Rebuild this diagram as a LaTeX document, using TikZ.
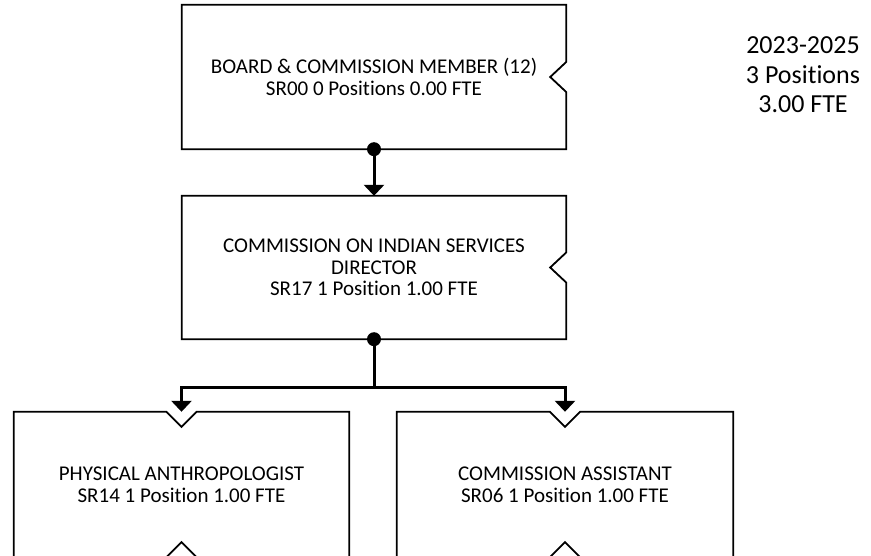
\documentclass[tikz,border=0pt]{standalone}
\usepackage{fontspec}
\setmainfont{Carlito}[Ligatures=NoCommon]
\usetikzlibrary{arrows.meta,calc}
\tikzset{
  orgbox/.style={draw=none, inner sep=0pt, align=center, font=\fontsize{21}{21.7}\selectfont},
  outline/.style={line width=1.8pt, draw=black, line join=miter},
  conn/.style={line width=3pt, draw=black, -{Triangle[width=20pt,length=11pt]}},
  dotc/.style={fill=black, circle, inner sep=0pt, minimum size=14pt},
  note/.style={align=center, inner sep=0pt, font=\fontsize{26}{29.5}\selectfont}
}
\begin{document}
\begin{tikzpicture}[x=1pt,y=-1pt]
\useasboundingbox (0,0) rectangle (871,556);
% boxes
\node[orgbox, minimum width=384pt, minimum height=144pt] (board) at (374,77)
  {BOARD \& COMMISSION MEMBER (12)\\SR00 0 Positions 0.00 FTE};
\node[orgbox, minimum width=384pt, minimum height=143pt] (dir) at (374,267.5)
  {COMMISSION ON INDIAN SERVICES\\DIRECTOR\\SR17 1 Position 1.00 FTE};
\node[orgbox, minimum width=335pt, minimum height=145pt] (pa) at (181.5,484.5)
  {PHYSICAL ANTHROPOLOGIST\\SR14 1 Position 1.00 FTE};
\node[orgbox, minimum width=336pt, minimum height=145pt] (ca) at (565,484.5)
  {COMMISSION ASSISTANT\\SR06 1 Position 1.00 FTE};
% outlines
\draw[outline] (board.north west) -- (board.north east)
  -- ($(board.east)+(0,-15)$) -- ($(board.east)+(-16,0)$) -- ($(board.east)+(0,15)$)
  -- (board.south east) -- (board.south west) -- cycle;
\draw[outline] (dir.north west) -- (dir.north east)
  -- ($(dir.east)+(0,-15)$) -- ($(dir.east)+(-16,0)$) -- ($(dir.east)+(0,15)$)
  -- (dir.south east) -- (dir.south west) -- cycle;
\foreach \b in {pa,ca}{
  \draw[outline] (\b.north west) -- ($(\b.north)+(-15,0)$) -- ($(\b.north)+(0,15)$)
    -- ($(\b.north)+(15,0)$) -- (\b.north east) -- (\b.south east)
    -- ($(\b.south)+(15,0)$) -- ($(\b.south)+(0,-15)$) -- ($(\b.south)+(-15,0)$)
    -- (\b.south west) -- cycle;
}
% connectors
\draw[conn] (board.south) -- (dir.north);
\node[dotc] (d1) at (board.south) {};
\coordinate (split) at ($(dir.south)+(0,48)$);
\draw[conn] (dir.south) -- (split) -| (pa.north);
\draw[conn] (split) -| (ca.north);
\node[dotc] (d2) at (dir.south) {};
% summary
\node[note] (sum) at (803,75) {2023-2025\\3 Positions\\3.00 FTE};
\end{tikzpicture}
\end{document}
